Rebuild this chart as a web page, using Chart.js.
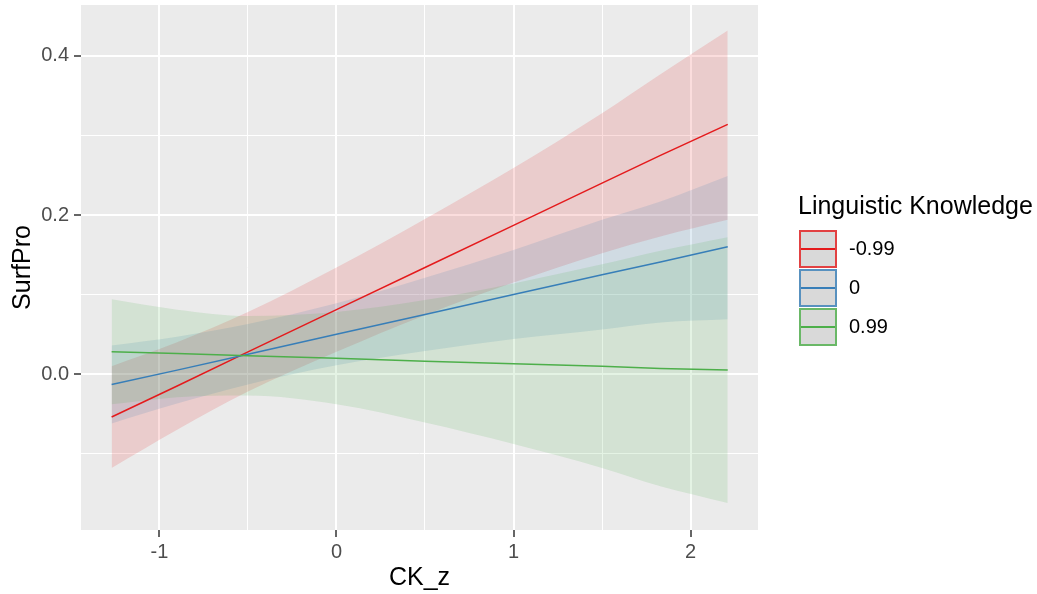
<!DOCTYPE html>
<html lang="en">
<head>
    <meta charset="UTF-8">
    <title>SurfPro by CK_z</title>
    <script src="https://cdn.jsdelivr.net/npm/chart.js"></script>
    <style>
        body {
            margin: 0;
            background: #fff;
            font-family: 'Liberation Sans', Arial, sans-serif;
        }
        .wrap {
            position: relative;
            width: 1037px;
            height: 594px;
        }
        .legend {
            position: absolute;
            left: 798px;
            top: 190px;
            color: #000;
        }
        .legend .title {
            font-size: 25px;
            line-height: 30px;
            white-space: nowrap;
            margin-bottom: 9px;
        }
        .legend .item {
            display: flex;
            align-items: center;
            height: 39px;
        }
        .legend .key {
            position: relative;
            width: 34px;
            height: 34px;
            background: #d9d9d9;
            border: 2px solid;
            margin-left: 1px;
        }
        .legend .key span {
            position: absolute;
            left: 0;
            right: 0;
            top: 16px;
            height: 2px;
        }
        .legend .label {
            font-size: 20px;
            margin-left: 12px;
        }
    </style>
</head>
<body>
<div class="wrap">
    <canvas id="chart" width="1037" height="594"></canvas>
    <div class="legend" id="legend"></div>
</div>

<script>
    // values
    const xs = [-1.27, -0.9, -0.5, 0, 0.5, 1, 1.5, 1.83, 2.21];

    const redFit   = [-0.054, -0.015, 0.028, 0.081, 0.134, 0.187, 0.240, 0.275, 0.314];
    const redUpper = [0.010, 0.040, 0.078, 0.134, 0.195, 0.259, 0.328, 0.377, 0.432];
    const redLower = [-0.118, -0.070, -0.022, 0.028, 0.074, 0.115, 0.152, 0.173, 0.194];

    const blueFit   = [-0.013, 0.005, 0.025, 0.050, 0.075, 0.100, 0.125, 0.141, 0.160];
    const blueUpper = [0.036, 0.047, 0.063, 0.089, 0.121, 0.156, 0.194, 0.217, 0.249];
    const blueLower = [-0.062, -0.037, -0.013, 0.011, 0.029, 0.044, 0.056, 0.065, 0.069];

    const greenFit   = [0.028, 0.026, 0.023, 0.020, 0.016, 0.013, 0.010, 0.007, 0.005];
    const greenUpper = [0.094, 0.081, 0.073, 0.078, 0.093, 0.114, 0.138, 0.155, 0.172];
    const greenLower = [-0.038, -0.029, -0.027, -0.038, -0.061, -0.088, -0.118, -0.141, -0.162];

    const groups = ['-0.99', '0', '0.99'];
    const colors = ['#E41A1C', '#377EB8', '#4DAF4A'];
    const bandColors = ['rgba(228,26,28,0.15)', 'rgba(55,126,184,0.15)', 'rgba(77,175,74,0.15)'];

    const legendTitle = 'Linguistic Knowledge';
    const xTitle = 'CK_z';
    const yTitle = 'SurfPro';

    const FONT = "'Liberation Sans', Arial, sans-serif";

    const pts = arr => arr.map((y, i) => ({ x: xs[i], y: y }));

    function lineSet(vals, color) {
        return {
            data: pts(vals),
            borderColor: color,
            borderWidth: 1.5,
            pointRadius: 0,
            fill: false
        };
    }

    function bandSet(vals, fillColor, fill) {
        return {
            data: pts(vals),
            borderWidth: 0,
            borderColor: 'rgba(0,0,0,0)',
            backgroundColor: fillColor,
            pointRadius: 0,
            cubicInterpolationMode: 'monotone',
            fill: fill
        };
    }

    // lines first so they sit on top; bands after (red band drawn first, green last)
    const datasets = [
        lineSet(greenFit, colors[2]),
        lineSet(blueFit, colors[1]),
        lineSet(redFit, colors[0]),
        bandSet(greenUpper, bandColors[2], false),
        bandSet(greenLower, bandColors[2], '-1'),
        bandSet(blueUpper, bandColors[1], false),
        bandSet(blueLower, bandColors[1], '-1'),
        bandSet(redUpper, bandColors[0], false),
        bandSet(redLower, bandColors[0], '-1')
    ];

    const panelBg = {
        id: 'panelBg',
        beforeDraw(chart) {
            const a = chart.chartArea;
            const c = chart.ctx;
            c.save();
            c.fillStyle = '#EBEBEB';
            c.fillRect(a.left, a.top, a.right - a.left, a.bottom - a.top);
            c.restore();
        }
    };

    const isMajorY = v => Math.round(v * 10) % 2 === 0;
    const isMajorX = v => Math.abs(v - Math.round(v)) < 1e-9;

    new Chart(document.getElementById('chart'), {
        type: 'line',
        data: { datasets: datasets },
        plugins: [panelBg],
        options: {
            responsive: false,
            animation: false,
            devicePixelRatio: 1,
            layout: { padding: { left: 0, top: 5, right: 279, bottom: 0 } },
            plugins: {
                legend: { display: false },
                tooltip: { enabled: false },
                filler: { drawTime: 'beforeDatasetsDraw' }
            },
            scales: {
                x: {
                    type: 'linear',
                    min: -1.443,
                    max: 2.381,
                    afterFit: s => {
                        s.height = 64;
                        s.paddingLeft = 0;
                        s.paddingRight = 0;
                    },
                    border: { display: false },
                    grid: {
                        color: '#FFFFFF',
                        lineWidth: c => isMajorX(c.tick.value) ? 2 : 1,
                        tickColor: c => isMajorX(c.tick.value) ? '#333333' : 'rgba(0,0,0,0)',
                        tickLength: 7,
                        tickWidth: 1.5
                    },
                    ticks: {
                        stepSize: 0.5,
                        includeBounds: false,
                        maxRotation: 0,
                        autoSkip: false,
                        padding: 3,
                        color: '#4D4D4D',
                        font: { family: FONT, size: 20 },
                        callback: v => isMajorX(v) ? String(Math.round(v)) : ''
                    },
                    title: {
                        display: true,
                        text: xTitle,
                        color: '#000',
                        font: { family: FONT, size: 25 },
                        padding: { top: 0, bottom: 1 }
                    }
                },
                y: {
                    type: 'linear',
                    min: -0.196,
                    max: 0.464,
                    afterFit: s => {
                        s.width = 81;
                        s.paddingTop = 0;
                        s.paddingBottom = 0;
                    },
                    border: { display: false },
                    grid: {
                        color: '#FFFFFF',
                        lineWidth: c => isMajorY(c.tick.value) ? 2 : 1,
                        tickColor: c => isMajorY(c.tick.value) ? '#333333' : 'rgba(0,0,0,0)',
                        tickLength: 7,
                        tickWidth: 1.5
                    },
                    ticks: {
                        stepSize: 0.1,
                        includeBounds: false,
                        autoSkip: false,
                        padding: 5,
                        color: '#4D4D4D',
                        font: { family: FONT, size: 20 },
                        callback: v => isMajorY(v) ? v.toFixed(1) : ''
                    },
                    title: {
                        display: true,
                        text: yTitle,
                        color: '#000',
                        font: { family: FONT, size: 25 },
                        padding: { top: 8, bottom: 0 }
                    }
                }
            }
        }
    });

    // legend on the right, ggplot style keys
    const legend = document.getElementById('legend');
    let html = '<div class="title">' + legendTitle + '</div>';
    groups.forEach((g, i) => {
        html += '<div class="item"><div class="key" style="border-color:' + colors[i] + 'cc">' +
                '<span style="background:' + colors[i] + '"></span></div>' +
                '<div class="label">' + g + '</div></div>';
    });
    legend.innerHTML = html;
</script>
</body>
</html>
